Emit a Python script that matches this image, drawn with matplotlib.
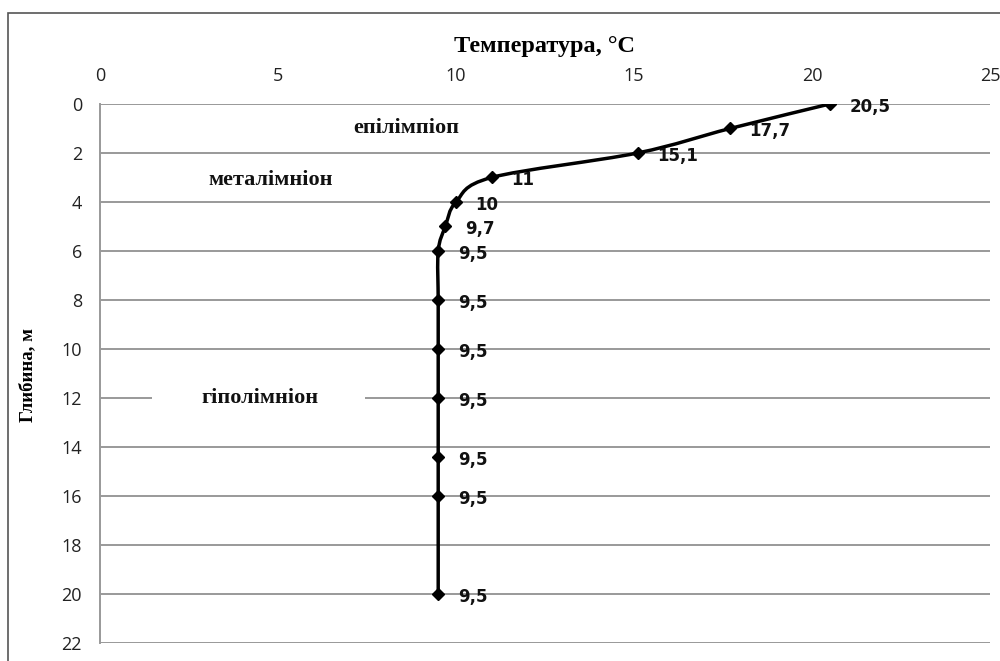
import numpy as np
import matplotlib
matplotlib.use("Agg")
import matplotlib.pyplot as plt
from matplotlib.path import Path
from matplotlib.patches import PathPatch, Rectangle

# data
temperature = [20.5, 17.7, 15.1, 11, 10, 9.7, 9.5, 9.5, 9.5, 9.5, 9.5, 9.5, 9.5]
depth = [0, 1, 2, 3, 4, 5, 6, 8, 10, 12, 14.4, 16, 20]
value_labels = ["20,5", "17,7", "15,1", "11", "10", "9,7", "9,5", "9,5",
                "9,5", "9,5", "9,5", "9,5", "9,5"]
x_ticks = [0, 5, 10, 15, 20, 25]
y_ticks = [0, 2, 4, 6, 8, 10, 12, 14, 16, 18, 20, 22]

fig = plt.figure(figsize=(10, 6.61), dpi=100)
ax = fig.add_axes([0.1, 0.0272, 0.89, 0.8155])

# outer chart frame (cut off at right and bottom)
fig.patches.append(Rectangle((0.008, -0.1), 1.2, 1.08, transform=fig.transFigure,
                             fill=False, edgecolor="#555555", linewidth=1.2))

ax.set_xlim(0, 25)
ax.set_ylim(22, 0)
ax.xaxis.tick_top()
ax.set_xticks(x_ticks)
ax.set_yticks(y_ticks)
ax.tick_params(length=0, labelsize=13, colors="#222222")
ax.tick_params(axis="x", pad=14)
ax.tick_params(axis="y", pad=13)
for lab in ax.get_xticklabels() + ax.get_yticklabels():
    lab.set_family("Open Sans")
ax.grid(axis="y", color="#999999", linewidth=1.4)
ax.set_axisbelow(True)
for s in ["top", "right", "bottom"]:
    ax.spines[s].set_visible(False)
ax.spines["left"].set_color("#999999")
ax.spines["left"].set_linewidth(1.4)

# smoothed line like Excel (Catmull-Rom -> Bezier)
pts = np.column_stack([temperature, depth]).astype(float)
verts = [pts[0]]
codes = [Path.MOVETO]
n = len(pts)
for i in range(n - 1):
    p0 = pts[i - 1] if i > 0 else pts[i]
    p1 = pts[i]
    p2 = pts[i + 1]
    p3 = pts[i + 2] if i + 2 < n else pts[i + 1]
    c1 = p1 + (p2 - p0) / 6
    c2 = p2 - (p3 - p1) / 6
    verts += [c1, c2, p2]
    codes += [Path.CURVE4] * 3
ax.add_patch(PathPatch(Path(verts, codes), facecolor="none",
                       edgecolor="black", linewidth=2.5, zorder=3))
ax.plot(temperature, depth, linestyle="none", marker="D", markersize=6,
        color="black", zorder=4)

for t, d, s in zip(temperature, depth, value_labels):
    ax.annotate(s, (t, d), xytext=(14, -2), textcoords="offset points",
                ha="left", va="center", fontsize=12, fontweight="bold",
                family="DejaVu Sans", color="#111111", zorder=5)

# zone labels
zone_font = dict(family="Liberation Serif", fontweight="bold", fontsize=16,
                 ha="center", va="center", color="#111111")
ax.text(8.6, 1.0, "епілімпіоп", **zone_font)
ax.text(4.8, 3.1, "металімніон", **zone_font)
ax.add_patch(Rectangle((1.45, 11.65), 6.0, 0.7, facecolor="white",
                       edgecolor="none", zorder=1.5))
ax.text(4.5, 12.0, "гіполімніон", zorder=2, **zone_font)

fig.text(0.545, 0.929, "Температура, °С", ha="center", va="center",
         family="Liberation Serif", fontweight="bold", fontsize=17.5)
fig.text(0.028, 0.433, "Глибина, м", ha="center", va="center", rotation=90,
         family="Liberation Serif", fontweight="bold", fontsize=13.5)

fig.savefig("out.png", dpi=100)
